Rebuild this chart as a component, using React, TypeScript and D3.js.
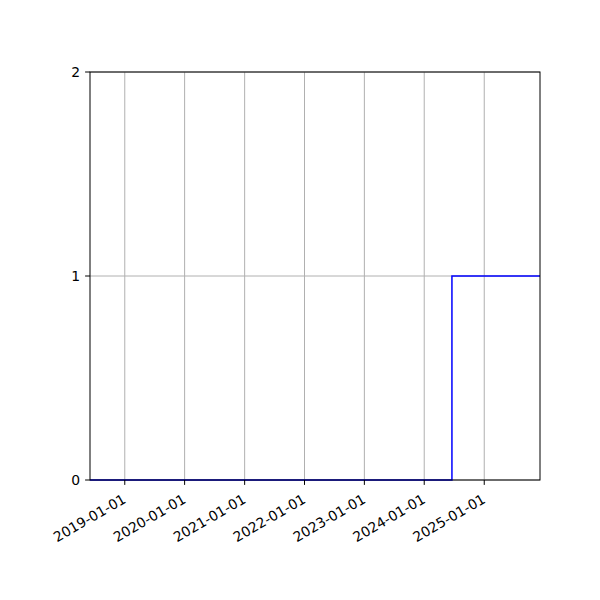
import React from "react";
import * as d3 from "d3";

const stepDates = ["2018-06-03", "2024-06-18", "2025-12-07"];
const stepValues = [0, 1, 1];
const xTickLabels = ["2019-01-01", "2020-01-01", "2021-01-01", "2022-01-01", "2023-01-01", "2024-01-01", "2025-01-01"];
const yTicks = [0, 1, 2];

export default function App() {
  const W = 600, H = 600;
  const left = 90, right = 540, top = 72, bottom = 480;
  const parse = d3.utcParse("%Y-%m-%d");
  const dates = stepDates.map((d) => parse(d) as Date);
  const x = d3.scaleUtc().domain([dates[0], dates[dates.length - 1]]).range([left, right]);
  const y = d3.scaleLinear().domain([0, 2]).range([bottom, top]);
  const pts: [number, number][] = dates.map((d, i) => [x(d), y(stepValues[i])]);
  const line = d3.line().curve(d3.curveStepAfter)(pts) || "";
  const font = "DejaVu Sans, sans-serif";
  return (
    <svg width={W} height={H} style={{ position: "absolute", left: 0, top: 0, background: "#fff" }}>
      <rect x={0} y={0} width={W} height={H} fill="#fff" />
      {xTickLabels.map((t) => {
        const xv = x(parse(t) as Date);
        return <line key={"gx" + t} x1={xv} x2={xv} y1={top} y2={bottom} stroke="#b0b0b0" strokeWidth={1} />;
      })}
      {yTicks.map((t) => (
        <line key={"gy" + t} x1={left} x2={right} y1={y(t)} y2={y(t)} stroke="#b0b0b0" strokeWidth={1} />
      ))}
      <path d={line} fill="none" stroke="#0000ff" strokeWidth={1.5} />
      <rect x={left} y={top} width={right - left} height={bottom - top} fill="none" stroke="#000" strokeWidth={1} />
      {xTickLabels.map((t) => {
        const xv = x(parse(t) as Date);
        return (
          <g key={"tx" + t}>
            <line x1={xv} x2={xv} y1={bottom} y2={bottom + 4.9} stroke="#000" strokeWidth={1} />
            <text
              transform={`translate(${xv - 3},${bottom + 13}) rotate(-30)`}
              textAnchor="end"
              dominantBaseline="hanging"
              fontFamily={font}
              fontSize={13.9}
              fill="#000"
            >
              {t}
            </text>
          </g>
        );
      })}
      {yTicks.map((t) => (
        <g key={"ty" + t}>
          <line x1={left - 4.9} x2={left} y1={y(t)} y2={y(t)} stroke="#000" strokeWidth={1} />
          <text x={left - 9.8} y={y(t)} textAnchor="end" dominantBaseline="central" fontFamily={font} fontSize={13.9} fill="#000">
            {t}
          </text>
        </g>
      ))}
    </svg>
  );
}
